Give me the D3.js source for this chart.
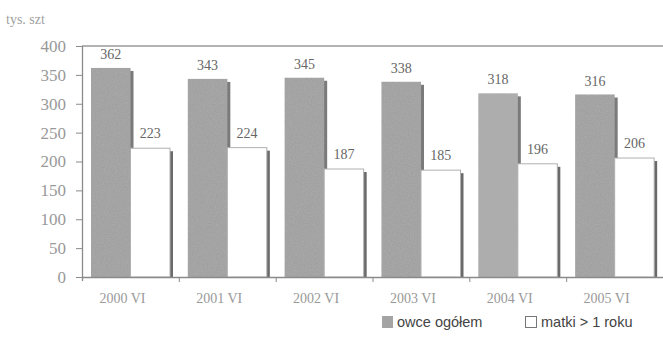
<!DOCTYPE html>
<html>
<head>
<meta charset="utf-8">
<script src="https://cdn.jsdelivr.net/npm/d3@7/dist/d3.min.js"></script>
<style>
  html, body { margin: 0; padding: 0; background: #fff; }
  svg { display: block; }
</style>
</head>
<body>
<svg id="chart" width="663" height="350"></svg>
<script>
// Sheep stock (thousand head), June census
const categories = ["2000 VI", "2001 VI", "2002 VI", "2003 VI", "2004 VI", "2005 VI"];
const owceOgolem = [362, 343, 345, 338, 318, 316];
const matki = [223, 224, 187, 185, 196, 206];
const yTicks = [0, 50, 100, 150, 200, 250, 300, 350, 400];
const seriesNames = ["owce ogółem", "matki > 1 roku"];
const unitLabel = "tys. szt";

const svg = d3.select("#chart");
const margin = { left: 82, right: 0, top: 46, bottom: 73 };
const W = 663, H = 350;

const x = d3.scaleBand().domain(categories).range([margin.left, W - margin.right]).paddingInner(0).paddingOuter(0);
const y = d3.scaleLinear().domain([0, 400]).range([H - margin.bottom, margin.top]);

// grain filter for the shaded bars
const defs = svg.append("defs");
const f = defs.append("filter").attr("id", "grain").attr("x", 0).attr("y", 0).attr("width", 1).attr("height", 1);
f.append("feTurbulence").attr("type", "fractalNoise").attr("baseFrequency", 0.9).attr("numOctaves", 2).attr("seed", 4).attr("result", "noise");
f.append("feColorMatrix").attr("in", "noise").attr("type", "matrix")
  .attr("values", "0 0 0 0 0.45  0 0 0 0 0.45  0 0 0 0 0.45  0.9 0 0 0 -0.25").attr("result", "speck");
f.append("feComposite").attr("in", "speck").attr("in2", "SourceGraphic").attr("operator", "in").attr("result", "sp");
f.append("feMerge").call(m => { m.append("feMergeNode").attr("in", "SourceGraphic"); m.append("feMergeNode").attr("in", "sp"); });

const sub = d3.scaleBand().domain([0, 1]).range([9, 9 + 79]);
const bw = sub.bandwidth();

// top frame line
svg.append("line").attr("x1", margin.left).attr("x2", W).attr("y1", y(400)).attr("y2", y(400))
  .attr("stroke", "#9a9a9a").attr("stroke-width", 1.5);

// y axis
const yAxis = svg.append("g").attr("transform", `translate(${margin.left},0)`)
  .call(d3.axisLeft(y).tickValues(yTicks).tickSize(6).tickPadding(10));
yAxis.select(".domain").attr("stroke", "#8a8a8a").attr("stroke-width", 1.3)
  .attr("d", `M0.5,${y(400)}V${y(0) + 4}`);
yAxis.selectAll(".tick line").attr("stroke", "#8a8a8a");
yAxis.selectAll(".tick text").attr("font-family", "Liberation Serif, serif").attr("font-size", 17)
  .attr("fill", "#999");

const groups = svg.append("g").selectAll("g").data(categories).join("g")
  .attr("transform", d => `translate(${x(d)},0)`);

// shadows
groups.append("rect")
  .attr("x", (d, i) => sub(0) + 3).attr("y", (d, i) => y(owceOgolem[i]) + 3)
  .attr("width", bw).attr("height", (d, i) => y(0) - y(owceOgolem[i]) - 3)
  .attr("fill", "#7a7a7a");
groups.append("rect")
  .attr("x", (d, i) => sub(1) + 3).attr("y", (d, i) => y(matki[i]) + 3)
  .attr("width", bw).attr("height", (d, i) => y(0) - y(matki[i]) - 3)
  .attr("fill", "#6a6a6a");

// series 1
groups.append("rect")
  .attr("x", sub(0)).attr("y", (d, i) => y(owceOgolem[i]))
  .attr("width", bw).attr("height", (d, i) => y(0) - y(owceOgolem[i]))
  .attr("fill", (d, i) => i === 4 ? "#acacac" : "#a0a0a0")
  .attr("filter", "url(#grain)");
// series 2
groups.append("rect")
  .attr("x", sub(1)).attr("y", (d, i) => y(matki[i]))
  .attr("width", bw).attr("height", (d, i) => y(0) - y(matki[i]))
  .attr("fill", "#fff").attr("stroke", "#b0b0b0").attr("stroke-width", 1);

// value labels
const labelStyle = s => s.attr("font-family", "Liberation Serif, serif").attr("font-size", 14)
  .attr("fill", "#666").attr("text-anchor", "middle");
groups.append("text").call(labelStyle)
  .attr("x", sub(0) + bw / 2).attr("y", (d, i) => y(owceOgolem[i]) - 9)
  .text((d, i) => owceOgolem[i]);
groups.append("text").call(labelStyle)
  .attr("x", sub(1) + bw / 2).attr("y", (d, i) => y(matki[i]) - 10)
  .text((d, i) => matki[i]);

// x axis
const xAxis = svg.append("g").attr("transform", `translate(0,${y(0)})`)
  .call(d3.axisBottom(x).tickSize(0).tickPadding(16));
xAxis.select(".domain").attr("stroke", "#8a8a8a").attr("stroke-width", 1.3)
  .attr("d", `M${margin.left},0.5H${W}`);
xAxis.selectAll(".tick text").attr("font-family", "Liberation Serif, serif").attr("font-size", 14)
  .attr("fill", "#999").attr("dx", -8);
svg.append("g").selectAll("line").data(categories.slice(1)).join("line")
  .attr("x1", d => x(d) + 0.5).attr("x2", d => x(d) + 0.5)
  .attr("y1", y(0)).attr("y2", y(0) + 5).attr("stroke", "#8a8a8a");

// unit label
svg.append("text").attr("x", 6).attr("y", 24).attr("font-family", "Liberation Serif, serif")
  .attr("font-size", 14).attr("fill", "#a0a0a0").text(unitLabel);

// legend
const legend = svg.append("g").attr("font-family", "Liberation Sans, Arial, sans-serif").attr("font-size", 14.5).attr("fill", "#444");
legend.append("rect").attr("x", 382).attr("y", 316).attr("width", 11).attr("height", 12)
  .attr("fill", "#a0a0a0").attr("filter", "url(#grain)");
legend.append("text").attr("x", 397).attr("y", 327).text(seriesNames[0]);
legend.append("rect").attr("x", 525.5).attr("y", 316.5).attr("width", 11).attr("height", 11)
  .attr("fill", "#fff").attr("stroke", "#777");
legend.append("text").attr("x", 541).attr("y", 327).text(seriesNames[1]);
</script>
</body>
</html>
